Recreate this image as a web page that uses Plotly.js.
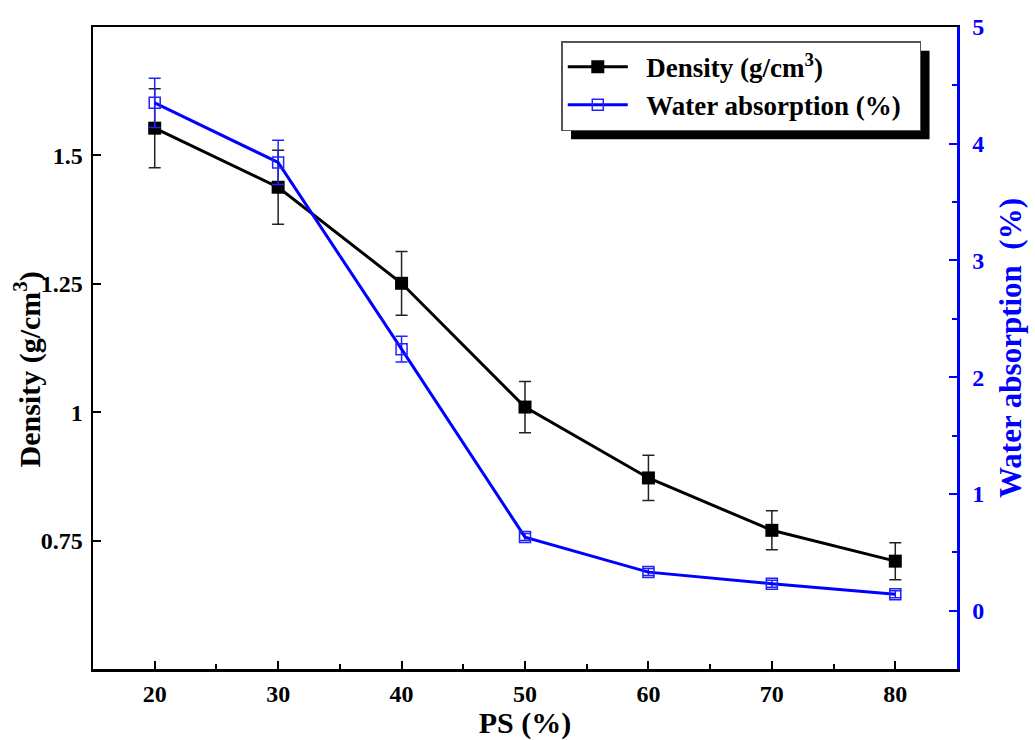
<!DOCTYPE html>
<html>
<head>
<meta charset="utf-8">
<script src="https://cdn.plot.ly/plotly-3.0.1.min.js"></script>
<style>html,body{margin:0;padding:0;background:#fff;}</style>
</head>
<body>
<div id="chart" style="width:1035px;height:740px;"></div>
<script>
const psPercent = [20, 30, 40, 50, 60, 70, 80];
const density = [1.553, 1.438, 1.251, 1.010, 0.872, 0.770, 0.710];
const densityErr = [0.077, 0.072, 0.062, 0.050, 0.044, 0.038, 0.036];
const waterAbs = [4.35, 3.84, 2.24, 0.63, 0.33, 0.23, 0.14];
const waterErr = [0.21, 0.19, 0.11, 0.03, 0.03, 0.03, 0.03];
const densityTickVals = [0.75, 1, 1.25, 1.5];
const densityTickText = ['0.75', '1', '1.25', '1.5'];
const seriesNames = ['Density (g/cm<sup>3</sup>)', 'Water absorption (%)'];

const serif = "'Liberation Serif', 'Times New Roman', Times, serif";
const pad = '\u00a0\u00a0';

const traces = [
  {
    x: psPercent, y: density, name: pad + seriesNames[0] + pad,
    type: 'scatter', mode: 'lines+markers',
    line: {color: '#000', width: 3},
    marker: {symbol: 'square', size: 13, color: '#000'},
    error_y: {type: 'data', array: densityErr, visible: true, color: '#222', thickness: 1.5, width: 6},
    yaxis: 'y'
  },
  {
    x: psPercent, y: waterAbs, name: pad + seriesNames[1] + pad,
    type: 'scatter', mode: 'lines+markers',
    line: {color: '#0000ff', width: 3},
    marker: {symbol: 'square-open', size: 11, color: '#2222ff', line: {width: 1.5}},
    error_y: {type: 'data', array: waterErr, visible: true, color: '#2222ff', thickness: 1.5, width: 6},
    yaxis: 'y2'
  }
];

const layout = {
  width: 1035, height: 740,
  margin: {l: 93, r: 78, t: 27, b: 71},
  paper_bgcolor: '#fff', plot_bgcolor: '#fff',
  font: {family: serif, size: 22, color: '#000'},
  showlegend: true,
  legend: {
    x: 0.542, y: 0.978, xanchor: 'left', yanchor: 'top',
    bgcolor: '#fff', bordercolor: '#555', borderwidth: 1.5,
    font: {family: serif, size: 27, weight: 'bold', color: '#000'},
    itemwidth: 60
  },
  xaxis: {
    range: [15, 85], dtick: 10, tick0: 0,
    ticks: 'inside', ticklen: 8, tickwidth: 2, tickcolor: '#000',
    minor: {dtick: 5, ticks: 'inside', ticklen: 5, tickwidth: 2, tickcolor: '#000'},
    showline: true, linecolor: '#000', linewidth: 2.5, mirror: true,
    showgrid: false, zeroline: false,
    tickfont: {family: serif, size: 24, weight: 'bold', color: '#000'},
    ticklabelstandoff: 2,
    title: {text: 'PS (%)', font: {family: serif, size: 30, weight: 'bold', color: '#000'}, standoff: 6}
  },
  yaxis: {
    range: [0.5, 1.75],
    tickvals: densityTickVals, ticktext: densityTickText,
    ticks: 'inside', ticklen: 8, tickwidth: 2, tickcolor: '#000',
    showline: true, linecolor: '#000', linewidth: 2.5, mirror: false,
    showgrid: false, zeroline: false,
    ticklabelstandoff: 3,
    tickfont: {family: serif, size: 24, weight: 'bold', color: '#000'}
  },
  yaxis2: {
    overlaying: 'y', side: 'right',
    range: [-0.5, 5], dtick: 1, tick0: 0,
    ticks: 'inside', ticklen: 8, tickwidth: 2, tickcolor: '#0000ff',
    minor: {dtick: 0.5, ticks: 'inside', ticklen: 5, tickwidth: 2, tickcolor: '#0000ff'},
    showline: true, linecolor: '#0000ff', linewidth: 2.5,
    showgrid: false, zeroline: false,
    ticklabelstandoff: 8,
    tickfont: {family: serif, size: 24, weight: 'bold', color: '#0000ff'},
    title: {text: 'Water absorption  (%)', font: {family: serif, size: 31, weight: 'bold', color: '#0000ff'}, standoff: 16}
  },
  annotations: [
    {text: 'Density (g/cm<sup>3</sup>)', xref: 'paper', yref: 'paper', x: -0.076, y: 0.467,
     xanchor: 'center', yanchor: 'middle', textangle: -90, showarrow: false,
     font: {family: serif, size: 30, weight: 'bold', color: '#000'}}
  ],
  shapes: []
};

Plotly.newPlot('chart', traces, layout, {displayModeBar: false, staticPlot: true}).then(function (gd) {
  const bg = gd.querySelector('.legend .bg');
  if (!bg) return;
  const r = bg.getBoundingClientRect();
  const c = gd.getBoundingClientRect();
  const sz = gd._fullLayout._size;
  const off = 9;
  const px0 = r.left - c.left + off, px1 = r.right - c.left + off;
  const py0 = r.top - c.top + off, py1 = r.bottom - c.top + off;
  const x0 = (px0 - sz.l) / sz.w, x1 = (px1 - sz.l) / sz.w;
  const y1 = 1 - (py0 - sz.t) / sz.h, y0 = 1 - (py1 - sz.t) / sz.h;
  return Plotly.relayout(gd, {shapes: [{type: 'rect', xref: 'paper', yref: 'paper', layer: 'above',
    x0: x0, x1: x1, y0: y0, y1: y1, fillcolor: '#000', line: {width: 0}}]});
});
</script>
</body>
</html>
